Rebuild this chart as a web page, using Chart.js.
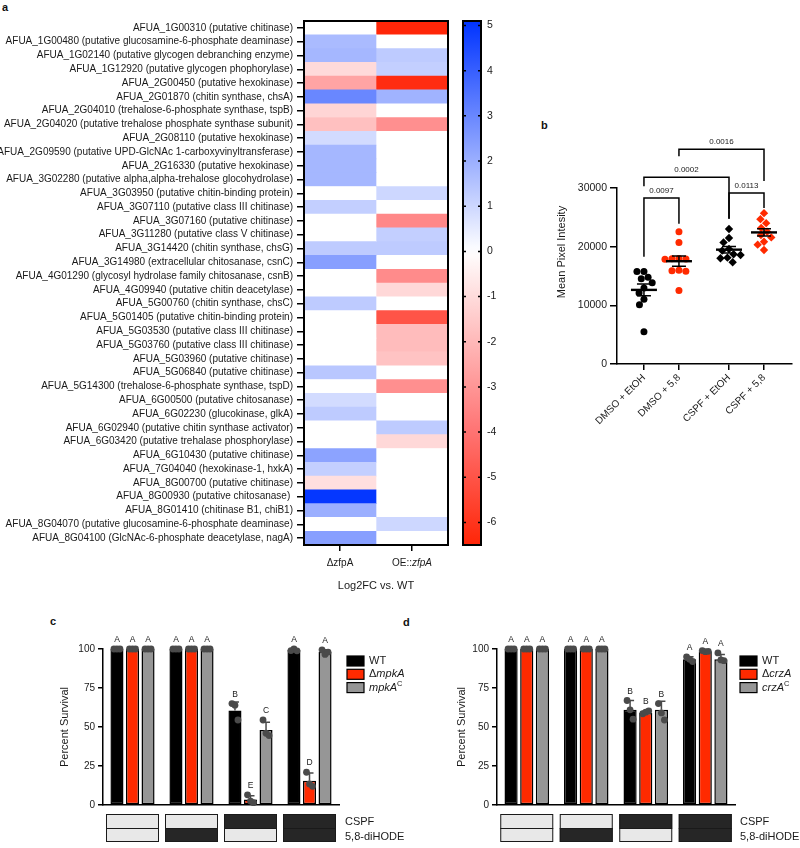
<!DOCTYPE html>
<html>
<head>
<meta charset="utf-8">
<script src="https://cdn.jsdelivr.net/npm/chart.js@4.4.1/dist/chart.umd.min.js"></script>
<style>
  body { margin: 0; background: #fff; width: 800px; height: 848px; position: relative; overflow: hidden;
         font-family: "Liberation Sans", Arial, Helvetica, sans-serif; }
  canvas { position: absolute; }
  .panel { position: absolute; font-weight: bold; font-size: 11px; color: #111; }
</style>
</head>
<body>
<div class="panel" style="left:2px;top:1px">a</div>
<div class="panel" style="left:541px;top:119px">b</div>
<div class="panel" style="left:50px;top:615px">c</div>
<div class="panel" style="left:403px;top:616px">d</div>

<canvas id="heat" width="452" height="600" style="left:0;top:0"></canvas>
<canvas id="cbar" width="60" height="560" style="left:455px;top:0"></canvas>
<canvas id="pix" width="255" height="320" style="left:545px;top:130px"></canvas>
<canvas id="survC" width="440" height="248" style="left:0;top:600px"></canvas>
<canvas id="survD" width="400" height="248" style="left:400px;top:600px"></canvas>

<script>
// ---- panel a: heatmap data ----
const genes = [
  "AFUA_1G00310 (putative chitinase)",
  "AFUA_1G00480 (putative glucosamine-6-phosphate deaminase)",
  "AFUA_1G02140 (putative glycogen debranching enzyme)",
  "AFUA_1G12920 (putative glycogen phophorylase)",
  "AFUA_2G00450 (putative hexokinase)",
  "AFUA_2G01870 (chitin synthase, chsA)",
  "AFUA_2G04010 (trehalose-6-phosphate synthase, tspB)",
  "AFUA_2G04020 (putative trehalose phosphate synthase subunit)",
  "AFUA_2G08110 (putative hexokinase)",
  "AFUA_2G09590 (putative UPD-GlcNAc 1-carboxyvinyltransferase)",
  "AFUA_2G16330 (putative hexokinase)",
  "AFUA_3G02280 (putative alpha,alpha-trehalose glocohydrolase)",
  "AFUA_3G03950 (putative chitin-binding protein)",
  "AFUA_3G07110 (putative class III chitinase)",
  "AFUA_3G07160 (putative chitinase)",
  "AFUA_3G11280 (putative class V chitinase)",
  "AFUA_3G14420 (chitin synthase, chsG)",
  "AFUA_3G14980 (extracellular chitosanase, csnC)",
  "AFUA_4G01290 (glycosyl hydrolase family chitosanase, csnB)",
  "AFUA_4G09940 (putative chitin deacetylase)",
  "AFUA_5G00760 (chitin synthase, chsC)",
  "AFUA_5G01405 (putative chitin-binding protein)",
  "AFUA_5G03530 (putative class III chitinase)",
  "AFUA_5G03760 (putative class III chitinase)",
  "AFUA_5G03960 (putative chitinase)",
  "AFUA_5G06840 (putative chitinase)",
  "AFUA_5G14300 (trehalose-6-phosphate synthase, tspD)",
  "AFUA_6G00500 (putative chitosanase)",
  "AFUA_6G02230 (glucokinase, glkA)",
  "AFUA_6G02940 (putative chitin synthase activator)",
  "AFUA_6G03420 (putative trehalase phosphorylase)",
  "AFUA_6G10430 (putative chitinase)",
  "AFUA_7G04040 (hexokinase-1, hxkA)",
  "AFUA_8G00700 (putative chitinase)",
  "AFUA_8G00930 (putative chitosanase) ",
  "AFUA_8G01410 (chitinase B1, chiB1)",
  "AFUA_8G04070 (putative glucosamine-6-phosphate deaminase)",
  "AFUA_8G04100 (GlcNAc-6-phosphate deacetylase, nagA)"
];
const fcDeltaZfpA = [0, 1.7, 1.8, -1.05, -2.6, 3.0, -1.2, -1.8, 0.9, 1.8, 1.8, 1.8, 0, 1.2, 0, 0, 1.3, 2.4, 0, 0,
  1.3, 0, 0, 0, 0, 1.4, 0, 0.9, 1.3, 0, 0, 2.3, 1.2, -0.9, 5.0, 2.0, 0, 2.4];
const fcOEzfpA = [-6.5, 0, 1.3, 1.2, -6.3, 1.9, 0, -3.2, 0, 0, 0, 0, 1.0, 0, -3.4, 1.2, 1.3, 0, -3.3, -1.1,
  0, -5.0, -1.9, -1.9, -1.7, 0, -3.2, 0, 0, 1.3, -1.1, 0, 0, 0, 0, 0, 1.0, 0];
const cbMin = -6.5, cbMax = 5.1;
const cbTicks = [5, 4, 3, 2, 1, 0, -1, -2, -3, -4, -5, -6];

// ---- panel b: mean pixel intensity ----
const groupsB = ["DMSO + EtOH", "DMSO + 5,8", "CSPF + EtOH", "CSPF + 5,8"];
const groupPosB = [1, 2, 3.43, 4.43];
const dmsoEtoh = [15760, 15760, 14800, 14520, 13840, 12940, 12090, 11020, 10110, 5480];
const dmso58 = [22540, 20730, 18000, 17950, 17900, 17850, 16000, 15900, 15800, 12540];
const cspfEtoh = [23000, 21470, 20730, 19600, 19320, 18700, 18590, 18130, 18020, 17340];
const cspf58 = [25710, 24690, 24010, 23170, 22540, 21980, 21580, 20850, 20340, 19440];
const comparisons = [
  { a: 0, b: 1, p: "0.0097" },
  { a: 0, b: 2, p: "0.0002" },
  { a: 2, b: 3, p: "0.0113" },
  { a: 1, b: 3, p: "0.0016" }
];

// ---- panels c, d: percent survival ----
const cspfOn = [0, 0, 1, 1];
const diHodeOn = [0, 1, 0, 1];

const wtC = [100, 100, 60.5, 99.3], wtCsd = [0, 0, 5.5, 0.8];
const mpkAC = [100, 100, 3.5, 15.5], mpkACsd = [0, 0, 2.5, 5];
const mpkAcompC = [100, 100, 48, 98], mpkAcompCsd = [0, 0, 5, 1.5];
const wtCpts = [[100, 100, 100], [100, 100, 100], [65, 64, 54.5], [99, 100, 98.8]];
const mpkACpts = [[100, 100, 100], [100, 100, 100], [6.5, 2.5, 1.5], [21, 13.5, 12]];
const mpkAcompCpts = [[100, 100, 100], [100, 100, 100], [54.5, 46, 44.5], [99.5, 96.5, 98]];
const lettersC = [["A", "A", "B", "A"], ["A", "A", "E", "D"], ["A", "A", "C", "A"]];

const wtD = [100, 100, 61, 93.5], wtDsd = [0, 0, 6, 1.5];
const crzAD = [100, 100, 59, 98.5], crzADsd = [0, 0, 1, 0.8];
const crzAcompD = [100, 100, 61, 93.5], crzAcompDsd = [0, 0, 5.5, 3];
const wtDpts = [[100, 100, 100], [100, 100, 100], [67, 61, 55], [95, 93.5, 92]];
const crzADpts = [[100, 100, 100], [100, 100, 100], [58.5, 59.5, 60.3], [99, 98.3, 98.5]];
const crzAcompDpts = [[100, 100, 100], [100, 100, 100], [65, 59, 54.5], [97.5, 93, 92.5]];
const lettersD = [["A", "A", "B", "A"], ["A", "A", "B", "A"], ["A", "A", "B", "A"]];

// ---- styling ----
const FONT = '"Liberation Sans", Arial, Helvetica, sans-serif';
const INK = "#1a1a1a";
const RED = "#ff2a00";
const GREY = "#969696";
const DOT = "#4a4a4a";
Chart.defaults.font.family = FONT;
Chart.defaults.color = INK;
const noPlug = { legend: { display: false }, tooltip: { enabled: false } };

// colour ramps: [t, r, g, b]
const BLUE_RAMP = [[0, 255, 255, 255], [1, 0, 51, 255]];
const RED_RAMP = [[0, 255, 255, 255], [0.6, 255, 118, 118], [1, 255, 38, 8]];
function ramp(stops, t) {
  for (let k = 1; k < stops.length; k++) {
    const [t0, ...c0] = stops[k - 1], [t1, ...c1] = stops[k];
    if (t <= t1) {
      const u = (t - t0) / (t1 - t0);
      return c0.map((c, j) => Math.round(c + (c1[j] - c) * u));
    }
  }
  return stops[stops.length - 1].slice(1);
}
function fcColor(v) {
  const c = v >= 0 ? ramp(BLUE_RAMP, Math.min(v / cbMax, 1)) : ramp(RED_RAMP, Math.min(v / cbMin, 1));
  return `rgb(${c[0]},${c[1]},${c[2]})`;
}

function drawRich(ctx, parts, x, y, size, align) {
  const fontOf = p => `${p.i ? "italic " : ""}${p.sup ? size * 0.68 : size}px ${FONT}`;
  let w = 0;
  parts.forEach(p => { ctx.font = fontOf(p); w += ctx.measureText(p.t).width; });
  let cx = align === "center" ? x - w / 2 : align === "right" ? x - w : x;
  ctx.textAlign = "left";
  ctx.textBaseline = "middle";
  parts.forEach(p => {
    ctx.font = fontOf(p);
    ctx.fillText(p.t, cx, p.sup ? y - size * 0.32 : y);
    cx += ctx.measureText(p.t).width;
  });
}

// ===== panel a: heatmap =====
const heatColumns = [[{ t: "\u0394zfpA" }], [{ t: "OE::" }, { t: "zfpA", i: true }]];
const heatDecor = {
  id: "heatDecor",
  afterDraw(chart) {
    const { ctx, chartArea: a } = chart;
    const xs = chart.scales.x;
    ctx.save();
    ctx.strokeStyle = "#000";
    ctx.lineWidth = 2;
    ctx.strokeRect(a.left, a.top, a.right - a.left, a.bottom - a.top);
    ctx.fillStyle = INK;
    heatColumns.forEach((parts, i) => drawRich(ctx, parts, xs.getPixelForValue(i + 0.5), 563, 10, "center"));
    ctx.font = `11px ${FONT}`;
    ctx.textAlign = "center";
    ctx.textBaseline = "middle";
    ctx.fillText("Log2FC vs. WT", (a.left + a.right) / 2, 586);
    ctx.restore();
  }
};

new Chart(document.getElementById("heat"), {
  type: "bar",
  data: {
    labels: genes,
    datasets: [
      { data: genes.map(() => 1), backgroundColor: fcDeltaZfpA.map(fcColor) },
      { data: genes.map(() => 1), backgroundColor: fcOEzfpA.map(fcColor) }
    ]
  },
  options: {
    indexAxis: "y",
    responsive: false,
    animation: false,
    layout: { padding: { top: 21, right: 4, left: 0, bottom: 0 } },
    plugins: noPlug,
    datasets: { bar: { barPercentage: 1, categoryPercentage: 1, borderWidth: 0 } },
    scales: {
      x: {
        type: "linear", stacked: true, min: 0, max: 2,
        afterBuildTicks: s => { s.ticks = [{ value: 0.5 }, { value: 1.5 }]; },
        ticks: { display: false },
        grid: { drawOnChartArea: false, tickLength: 6, color: "#000", lineWidth: 1.5 },
        border: { display: false },
        afterFit: s => { s.height = 55; }
      },
      y: {
        stacked: true,
        ticks: { autoSkip: false, font: { size: 10 }, color: INK, padding: 4 },
        grid: { offset: false, drawOnChartArea: false, tickLength: 7, color: "#000", lineWidth: 1.5 },
        border: { display: false },
        afterFit: s => { s.width = 304; }
      }
    }
  },
  plugins: [heatDecor]
});

// colour bar
const cbDecor = {
  id: "cbDecor",
  beforeDraw(chart) {
    const { ctx, chartArea: a } = chart;
    const ys = chart.scales.y;
    const g = ctx.createLinearGradient(0, a.top, 0, a.bottom);
    for (let k = 0; k <= 58; k++) {
      const v = cbMax - (cbMax - cbMin) * k / 58;
      g.addColorStop(k / 58, fcColor(v));
    }
    ctx.save();
    ctx.fillStyle = g;
    ctx.fillRect(a.left, a.top, a.right - a.left, a.bottom - a.top);
    ctx.strokeStyle = "#000";
    ctx.lineWidth = 2;
    ctx.strokeRect(a.left, a.top, a.right - a.left, a.bottom - a.top);
    ctx.lineWidth = 1.5;
    cbTicks.forEach(v => {
      const y = ys.getPixelForValue(v);
      ctx.beginPath();
      ctx.moveTo(a.left - 1, y); ctx.lineTo(a.left + 3, y);
      ctx.moveTo(a.right - 3, y); ctx.lineTo(a.right + 1, y);
      ctx.stroke();
    });
    ctx.restore();
  }
};

new Chart(document.getElementById("cbar"), {
  type: "scatter",
  data: { datasets: [] },
  options: {
    responsive: false,
    animation: false,
    layout: { padding: { top: 21, bottom: 15, left: 8, right: 0 } },
    plugins: noPlug,
    scales: {
      x: { display: false },
      y: {
        position: "right", min: cbMin, max: cbMax,
        afterBuildTicks: s => { s.ticks = cbTicks.map(v => ({ value: v })); },
        ticks: { font: { size: 10.5 }, color: INK, padding: 6, callback: v => String(v) },
        grid: { display: false, drawTicks: false },
        border: { display: false },
        afterFit: s => { s.width = 34; }
      }
    }
  },
  plugins: [cbDecor]
});

// ===== panel b =====
const PX_Y = 59 / 10000, PX_X = 35, DOT_D = 7;
function swarm(values, center) {
  const placed = [];
  return [...values].sort((p, q) => q - p).map(v => {
    const py = v * PX_Y;
    const cands = [0];
    placed.forEach(p => {
      const dy = Math.abs(p.py - py);
      if (dy < DOT_D) {
        const dx = Math.sqrt(DOT_D * DOT_D - dy * dy) + 0.01;
        cands.push(p.px - dx, p.px + dx);
      }
    });
    cands.sort((p, q) => Math.abs(p) - Math.abs(q) || p - q);
    const px = cands.find(c => placed.every(p => Math.hypot(p.px - c, p.py - py) >= DOT_D - 0.02));
    placed.push({ px, py });
    return { x: center + px / PX_X, y: v };
  });
}
const seriesB = [dmsoEtoh, dmso58, cspfEtoh, cspf58];
const bracketLevels = [
  { top: 28300, la: 18300, lb: 23900 },
  { top: 31850, la: 30300, lb: 24750 },
  { top: 29150, la: 24750, lb: 26600 },
  { top: 36600, la: 35400, lb: 31200 }
];

const pixDecor = {
  id: "pixDecor",
  afterDatasetsDraw(chart) {
    const { ctx } = chart;
    const { x: xs, y: ys } = chart.scales;
    ctx.save();
    ctx.strokeStyle = "#000";
    seriesB.forEach((vals, i) => {
      const n = vals.length;
      const m = vals.reduce((s, v) => s + v, 0) / n;
      const sd = Math.sqrt(vals.reduce((s, v) => s + (v - m) ** 2, 0) / (n - 1));
      const sem = sd / Math.sqrt(n);
      const px = xs.getPixelForValue(groupPosB[i]);
      const yM = ys.getPixelForValue(m), yH = ys.getPixelForValue(m + sem), yL = ys.getPixelForValue(m - sem);
      ctx.lineWidth = 2.4;
      ctx.beginPath(); ctx.moveTo(px - 13, yM); ctx.lineTo(px + 13, yM); ctx.stroke();
      ctx.lineWidth = 1.5;
      ctx.beginPath();
      ctx.moveTo(px, yH); ctx.lineTo(px, yL);
      ctx.moveTo(px - 7, yH); ctx.lineTo(px + 7, yH);
      ctx.moveTo(px - 7, yL); ctx.lineTo(px + 7, yL);
      ctx.stroke();
    });
    ctx.restore();
  },
  afterDraw(chart) {
    const { ctx } = chart;
    const { x: xs, y: ys } = chart.scales;
    ctx.save();
    ctx.strokeStyle = "#000";
    ctx.fillStyle = INK;
    ctx.lineWidth = 1.5;
    comparisons.forEach((c, k) => {
      const L = bracketLevels[k];
      const xa = xs.getPixelForValue(groupPosB[c.a]), xb = xs.getPixelForValue(groupPosB[c.b]);
      const yt = ys.getPixelForValue(L.top);
      ctx.beginPath();
      ctx.moveTo(xa, ys.getPixelForValue(L.la)); ctx.lineTo(xa, yt);
      ctx.lineTo(xb, yt); ctx.lineTo(xb, ys.getPixelForValue(L.lb));
      ctx.stroke();
      ctx.font = `8px ${FONT}`;
      ctx.textAlign = "center";
      ctx.textBaseline = "bottom";
      ctx.fillText(c.p, (xa + xb) / 2, yt - 3);
    });
    ctx.translate(17, 122);
    ctx.rotate(-Math.PI / 2);
    ctx.font = `11px ${FONT}`;
    ctx.textAlign = "center";
    ctx.textBaseline = "middle";
    ctx.fillText("Mean Pixel Intesity", 0, 0);
    ctx.restore();
  }
};

new Chart(document.getElementById("pix"), {
  type: "scatter",
  data: {
    datasets: [
      { data: swarm(dmsoEtoh, groupPosB[0]), pointStyle: "circle", pointRadius: 3.5, backgroundColor: "#000", borderWidth: 0 },
      { data: swarm(dmso58, groupPosB[1]), pointStyle: "circle", pointRadius: 3.5, backgroundColor: RED, borderWidth: 0 },
      { data: swarm(cspfEtoh, groupPosB[2]), pointStyle: "rectRot", pointRadius: 4.2, backgroundColor: "#000", borderWidth: 0 },
      { data: swarm(cspf58, groupPosB[3]), pointStyle: "rectRot", pointRadius: 4.2, backgroundColor: RED, borderWidth: 0 }
    ]
  },
  options: {
    responsive: false,
    animation: false,
    clip: false,
    layout: { padding: { top: 58, right: 8, left: 0, bottom: 0 } },
    plugins: noPlug,
    scales: {
      x: {
        type: "linear", min: 0.23, max: 5.23,
        afterBuildTicks: s => { s.ticks = groupPosB.map(v => ({ value: v })); },
        ticks: { font: { size: 10 }, color: INK, minRotation: 45, maxRotation: 45, padding: 2,
                 callback: (v, i) => groupsB[i] },
        grid: { drawOnChartArea: false, tickLength: 6, color: "#000", lineWidth: 1.5 },
        border: { color: "#000", width: 1.5 },
        afterFit: s => { s.height = 86; }
      },
      y: {
        min: 0, max: 30000,
        ticks: { stepSize: 10000, font: { size: 10.5 }, color: INK, padding: 3, callback: v => String(v) },
        grid: { drawOnChartArea: false, tickLength: 7, color: "#000", lineWidth: 1.5 },
        border: { color: "#000", width: 1.5 },
        afterFit: s => { s.width = 72; }
      }
    }
  },
  plugins: [pixDecor]
});

// ===== panels c, d =====
const JIT = [-3, 0, 3];
function survivalDecor(cfg) {
  return {
    id: "survivalDecor",
    afterDatasetsDraw(chart) {
      const ctx = chart.ctx, ys = chart.scales.y;
      ctx.save();
      cfg.series.forEach((s, d) => {
        chart.getDatasetMeta(d).data.forEach((bar, i) => {
          const x = bar.x;
          const yM = ys.getPixelForValue(s.mean[i]);
          const yT = ys.getPixelForValue(s.mean[i] + s.sd[i]);
          let top = yT;
          if (s.sd[i] > 0) {
            ctx.strokeStyle = DOT;
            ctx.lineWidth = 1.5;
            ctx.beginPath();
            ctx.moveTo(x, yM); ctx.lineTo(x, yT);
            ctx.moveTo(x - 4, yT); ctx.lineTo(x + 4, yT);
            ctx.stroke();
          }
          ctx.fillStyle = DOT;
          s.pts[i].forEach((v, k) => {
            const py = ys.getPixelForValue(v);
            ctx.beginPath();
            ctx.arc(x + JIT[k], py, 3.4, 0, Math.PI * 2);
            ctx.fill();
            top = Math.min(top, py - 3.4);
          });
          ctx.fillStyle = INK;
          ctx.font = `8.5px ${FONT}`;
          ctx.textAlign = "center";
          ctx.textBaseline = "bottom";
          ctx.fillText(s.letters[i], x, top - 1.5);
        });
      });
      ctx.restore();
    },
    afterDraw(chart) {
      const ctx = chart.ctx, xs = chart.scales.x, a = chart.chartArea;
      ctx.save();
      // legend
      cfg.legend.forEach((parts, k) => {
        const yc = 61 + k * 13.3;
        ctx.fillStyle = ["#000", RED, GREY][k];
        ctx.fillRect(cfg.legendX, yc - 5, 17, 10);
        ctx.strokeStyle = "#000";
        ctx.lineWidth = 1.2;
        ctx.strokeRect(cfg.legendX, yc - 5, 17, 10);
        ctx.fillStyle = INK;
        drawRich(ctx, parts, cfg.legendX + 22, yc, 11, "left");
      });
      // treatment grid
      const half = 26.5;
      cspfOn.forEach((on, i) => {
        const cx = xs.getPixelForValue(i);
        [[on, 214, 14], [diHodeOn[i], 228, 14]].forEach(([f, y, h]) => {
          ctx.fillStyle = f ? "#262626" : "#e8e8e8";
          ctx.fillRect(cx - half, y, half * 2, h);
        });
        ctx.strokeStyle = "#1a1a1a";
        ctx.lineWidth = 1;
        ctx.strokeRect(cx - half + 0.5, 214.5, half * 2 - 1, 27);
        ctx.beginPath();
        ctx.moveTo(cx - half, 228.5); ctx.lineTo(cx + half, 228.5);
        ctx.stroke();
      });
      ctx.fillStyle = INK;
      ctx.font = `11px ${FONT}`;
      ctx.textAlign = "left";
      ctx.textBaseline = "middle";
      ctx.fillText("CSPF", cfg.treatX, 221.5);
      ctx.fillText("5,8-diHODE", cfg.treatX, 237);
      // y title
      ctx.translate(cfg.titleX, (a.top + a.bottom) / 2);
      ctx.rotate(-Math.PI / 2);
      ctx.textAlign = "center";
      ctx.fillText("Percent Survival", 0, 0);
      ctx.restore();
    }
  };
}

function survivalChart(id, series, cfg) {
  new Chart(document.getElementById(id), {
    type: "bar",
    data: {
      labels: ["1", "2", "3", "4"],
      datasets: series.map((s, d) => ({
        data: s.mean,
        backgroundColor: ["#000", RED, GREY][d],
        borderColor: "#000"
      }))
    },
    options: {
      responsive: false,
      animation: false,
      layout: { padding: { top: 49, right: cfg.padRight, left: 0, bottom: 0 } },
      plugins: noPlug,
      datasets: { bar: { categoryPercentage: 0.79, barPercentage: 0.84, borderWidth: 1.5, borderSkipped: false } },
      scales: {
        x: {
          grid: { display: false },
          ticks: { display: false },
          border: { color: "#000", width: 1.5 },
          afterFit: s => { s.height = 43; }
        },
        y: {
          min: 0, max: 100,
          ticks: { stepSize: 25, font: { size: 10 }, color: INK, padding: 3 },
          grid: { drawOnChartArea: false, tickLength: 5, color: "#000", lineWidth: 1.5 },
          border: { color: "#000", width: 1.5 },
          afterFit: s => { s.width = cfg.axisWidth; }
        }
      }
    },
    plugins: [survivalDecor(Object.assign({ series }, cfg))]
  });
}

survivalChart("survC", [
  { mean: wtC, sd: wtCsd, pts: wtCpts, letters: lettersC[0] },
  { mean: mpkAC, sd: mpkACsd, pts: mpkACpts, letters: lettersC[1] },
  { mean: mpkAcompC, sd: mpkAcompCsd, pts: mpkAcompCpts, letters: lettersC[2] }
], {
  axisWidth: 103, padRight: 101, legendX: 347, treatX: 345, titleX: 65,
  legend: [[{ t: "WT" }], [{ t: "\u0394" }, { t: "mpkA", i: true }], [{ t: "mpkA", i: true }, { t: "C", sup: true }]]
});

survivalChart("survD", [
  { mean: wtD, sd: wtDsd, pts: wtDpts, letters: lettersD[0] },
  { mean: crzAD, sd: crzADsd, pts: crzADpts, letters: lettersD[1] },
  { mean: crzAcompD, sd: crzAcompDsd, pts: crzAcompDpts, letters: lettersD[2] }
], {
  axisWidth: 97, padRight: 65, legendX: 340, treatX: 340, titleX: 62,
  legend: [[{ t: "WT" }], [{ t: "\u0394" }, { t: "crzA", i: true }], [{ t: "crzA", i: true }, { t: "C", sup: true }]]
});
</script>
</body>
</html>
